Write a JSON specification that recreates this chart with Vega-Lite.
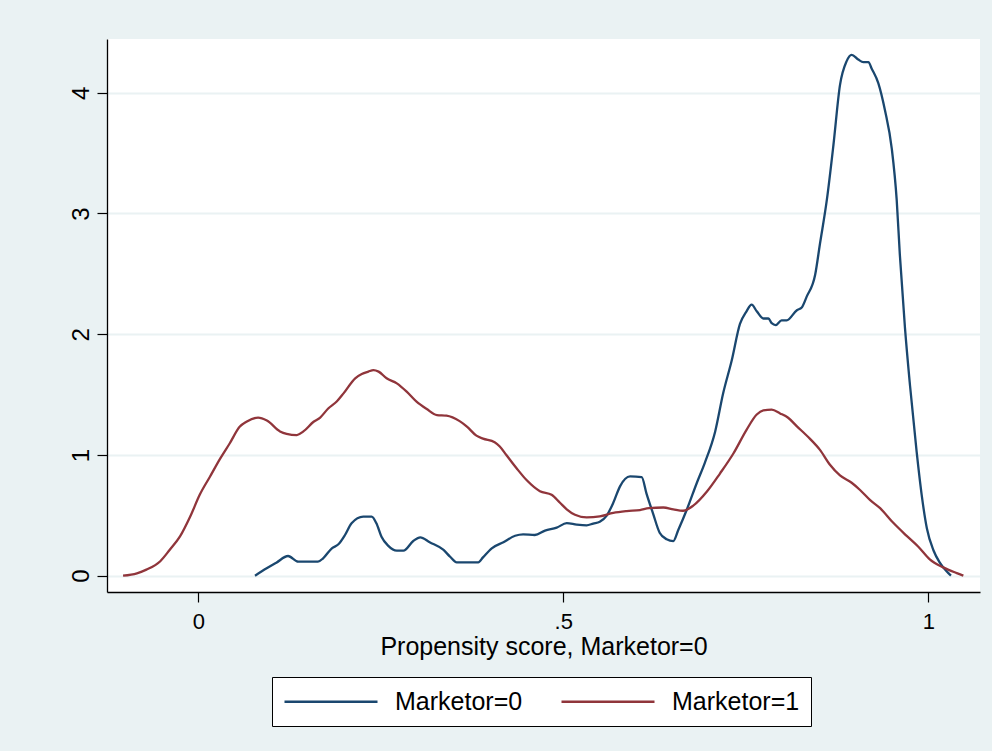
{
  "$schema": "https://vega.github.io/schema/vega-lite/v6.json",
  "width": 873,
  "height": 553,
  "autosize": {"type": "none"},
  "padding": {"left": 107, "top": 39, "right": 12, "bottom": 159},
  "background": "#eaf2f3",
  "config": {
    "view": {"fill": "#ffffff", "stroke": null},
    "font": "Liberation Sans"
  },
  "datasets": {
    "kdensity": [
      {"group": "Marketor=0", "score": 0.0777, "density": 0},
      {"group": "Marketor=0", "score": 0.0937, "density": 0.061},
      {"group": "Marketor=0", "score": 0.107, "density": 0.108},
      {"group": "Marketor=0", "score": 0.123, "density": 0.163},
      {"group": "Marketor=0", "score": 0.137, "density": 0.116},
      {"group": "Marketor=0", "score": 0.164, "density": 0.116},
      {"group": "Marketor=0", "score": 0.171, "density": 0.144},
      {"group": "Marketor=0", "score": 0.183, "density": 0.227},
      {"group": "Marketor=0", "score": 0.192, "density": 0.26},
      {"group": "Marketor=0", "score": 0.201, "density": 0.337},
      {"group": "Marketor=0", "score": 0.21, "density": 0.434},
      {"group": "Marketor=0", "score": 0.226, "density": 0.489},
      {"group": "Marketor=0", "score": 0.2375, "density": 0.489},
      {"group": "Marketor=0", "score": 0.244, "density": 0.434},
      {"group": "Marketor=0", "score": 0.251, "density": 0.323},
      {"group": "Marketor=0", "score": 0.26, "density": 0.249},
      {"group": "Marketor=0", "score": 0.272, "density": 0.207},
      {"group": "Marketor=0", "score": 0.281, "density": 0.207},
      {"group": "Marketor=0", "score": 0.2945, "density": 0.287},
      {"group": "Marketor=0", "score": 0.304, "density": 0.318},
      {"group": "Marketor=0", "score": 0.317, "density": 0.277},
      {"group": "Marketor=0", "score": 0.336, "density": 0.213},
      {"group": "Marketor=0", "score": 0.345, "density": 0.157},
      {"group": "Marketor=0", "score": 0.354, "density": 0.111},
      {"group": "Marketor=0", "score": 0.3836, "density": 0.111},
      {"group": "Marketor=0", "score": 0.39, "density": 0.152},
      {"group": "Marketor=0", "score": 0.402, "density": 0.227},
      {"group": "Marketor=0", "score": 0.418, "density": 0.277},
      {"group": "Marketor=0", "score": 0.434, "density": 0.331},
      {"group": "Marketor=0", "score": 0.445, "density": 0.343},
      {"group": "Marketor=0", "score": 0.461, "density": 0.337},
      {"group": "Marketor=0", "score": 0.475, "density": 0.373},
      {"group": "Marketor=0", "score": 0.491, "density": 0.398},
      {"group": "Marketor=0", "score": 0.5047, "density": 0.435},
      {"group": "Marketor=0", "score": 0.5184, "density": 0.423},
      {"group": "Marketor=0", "score": 0.532, "density": 0.417},
      {"group": "Marketor=0", "score": 0.541, "density": 0.432},
      {"group": "Marketor=0", "score": 0.55, "density": 0.447},
      {"group": "Marketor=0", "score": 0.5595, "density": 0.498},
      {"group": "Marketor=0", "score": 0.5685, "density": 0.604},
      {"group": "Marketor=0", "score": 0.5777, "density": 0.74},
      {"group": "Marketor=0", "score": 0.5914, "density": 0.822},
      {"group": "Marketor=0", "score": 0.6074, "density": 0.816},
      {"group": "Marketor=0", "score": 0.614, "density": 0.68},
      {"group": "Marketor=0", "score": 0.623, "density": 0.514},
      {"group": "Marketor=0", "score": 0.632, "density": 0.356},
      {"group": "Marketor=0", "score": 0.6416, "density": 0.302},
      {"group": "Marketor=0", "score": 0.6507, "density": 0.287},
      {"group": "Marketor=0", "score": 0.6575, "density": 0.378},
      {"group": "Marketor=0", "score": 0.669, "density": 0.544},
      {"group": "Marketor=0", "score": 0.683, "density": 0.77},
      {"group": "Marketor=0", "score": 0.694, "density": 0.937},
      {"group": "Marketor=0", "score": 0.708, "density": 1.193},
      {"group": "Marketor=0", "score": 0.719, "density": 1.511},
      {"group": "Marketor=0", "score": 0.7307, "density": 1.782},
      {"group": "Marketor=0", "score": 0.742, "density": 2.085},
      {"group": "Marketor=0", "score": 0.751, "density": 2.19},
      {"group": "Marketor=0", "score": 0.758, "density": 2.245},
      {"group": "Marketor=0", "score": 0.765, "density": 2.19},
      {"group": "Marketor=0", "score": 0.774, "density": 2.13},
      {"group": "Marketor=0", "score": 0.781, "density": 2.13},
      {"group": "Marketor=0", "score": 0.7855, "density": 2.091},
      {"group": "Marketor=0", "score": 0.791, "density": 2.076},
      {"group": "Marketor=0", "score": 0.799, "density": 2.115},
      {"group": "Marketor=0", "score": 0.806, "density": 2.115},
      {"group": "Marketor=0", "score": 0.82, "density": 2.199},
      {"group": "Marketor=0", "score": 0.8266, "density": 2.221},
      {"group": "Marketor=0", "score": 0.8334, "density": 2.311},
      {"group": "Marketor=0", "score": 0.845, "density": 2.492},
      {"group": "Marketor=0", "score": 0.8516, "density": 2.749},
      {"group": "Marketor=0", "score": 0.861, "density": 3.112},
      {"group": "Marketor=0", "score": 0.87, "density": 3.565},
      {"group": "Marketor=0", "score": 0.879, "density": 4.063},
      {"group": "Marketor=0", "score": 0.888, "density": 4.26},
      {"group": "Marketor=0", "score": 0.895, "density": 4.314},
      {"group": "Marketor=0", "score": 0.904, "density": 4.275},
      {"group": "Marketor=0", "score": 0.911, "density": 4.254},
      {"group": "Marketor=0", "score": 0.918, "density": 4.254},
      {"group": "Marketor=0", "score": 0.9225, "density": 4.199},
      {"group": "Marketor=0", "score": 0.9315, "density": 4.079},
      {"group": "Marketor=0", "score": 0.9407, "density": 3.852},
      {"group": "Marketor=0", "score": 0.95, "density": 3.535},
      {"group": "Marketor=0", "score": 0.9567, "density": 3.112},
      {"group": "Marketor=0", "score": 0.961, "density": 2.659},
      {"group": "Marketor=0", "score": 0.968, "density": 2.054},
      {"group": "Marketor=0", "score": 0.975, "density": 1.571},
      {"group": "Marketor=0", "score": 0.984, "density": 1.027},
      {"group": "Marketor=0", "score": 0.991, "density": 0.665},
      {"group": "Marketor=0", "score": 0.998, "density": 0.393},
      {"group": "Marketor=0", "score": 1.007, "density": 0.211},
      {"group": "Marketor=0", "score": 1.016, "density": 0.106},
      {"group": "Marketor=0", "score": 1.025, "density": 0.036},
      {"group": "Marketor=0", "score": 1.031, "density": 0},

      {"group": "Marketor=1", "score": -0.103, "density": 0},
      {"group": "Marketor=1", "score": -0.084, "density": 0.02},
      {"group": "Marketor=1", "score": -0.071, "density": 0.05},
      {"group": "Marketor=1", "score": -0.052, "density": 0.12},
      {"group": "Marketor=1", "score": -0.039, "density": 0.215},
      {"group": "Marketor=1", "score": -0.025, "density": 0.325},
      {"group": "Marketor=1", "score": -0.011, "density": 0.49},
      {"group": "Marketor=1", "score": 0.002, "density": 0.67},
      {"group": "Marketor=1", "score": 0.016, "density": 0.82},
      {"group": "Marketor=1", "score": 0.03, "density": 0.97},
      {"group": "Marketor=1", "score": 0.043, "density": 1.095},
      {"group": "Marketor=1", "score": 0.057, "density": 1.235},
      {"group": "Marketor=1", "score": 0.066, "density": 1.275},
      {"group": "Marketor=1", "score": 0.082, "density": 1.31},
      {"group": "Marketor=1", "score": 0.094, "density": 1.285},
      {"group": "Marketor=1", "score": 0.112, "density": 1.195},
      {"group": "Marketor=1", "score": 0.121, "density": 1.175},
      {"group": "Marketor=1", "score": 0.135, "density": 1.165},
      {"group": "Marketor=1", "score": 0.144, "density": 1.195},
      {"group": "Marketor=1", "score": 0.158, "density": 1.275},
      {"group": "Marketor=1", "score": 0.167, "density": 1.31},
      {"group": "Marketor=1", "score": 0.178, "density": 1.385},
      {"group": "Marketor=1", "score": 0.19, "density": 1.445},
      {"group": "Marketor=1", "score": 0.199, "density": 1.51},
      {"group": "Marketor=1", "score": 0.215, "density": 1.635},
      {"group": "Marketor=1", "score": 0.224, "density": 1.67},
      {"group": "Marketor=1", "score": 0.233, "density": 1.69},
      {"group": "Marketor=1", "score": 0.24, "density": 1.703},
      {"group": "Marketor=1", "score": 0.247, "density": 1.69},
      {"group": "Marketor=1", "score": 0.258, "density": 1.635},
      {"group": "Marketor=1", "score": 0.272, "density": 1.593},
      {"group": "Marketor=1", "score": 0.2855, "density": 1.524},
      {"group": "Marketor=1", "score": 0.299, "density": 1.441},
      {"group": "Marketor=1", "score": 0.313, "density": 1.38},
      {"group": "Marketor=1", "score": 0.327, "density": 1.33},
      {"group": "Marketor=1", "score": 0.34, "density": 1.325},
      {"group": "Marketor=1", "score": 0.358, "density": 1.28},
      {"group": "Marketor=1", "score": 0.368, "density": 1.235},
      {"group": "Marketor=1", "score": 0.381, "density": 1.16},
      {"group": "Marketor=1", "score": 0.39, "density": 1.135},
      {"group": "Marketor=1", "score": 0.406, "density": 1.105},
      {"group": "Marketor=1", "score": 0.413, "density": 1.07},
      {"group": "Marketor=1", "score": 0.422, "density": 1.0},
      {"group": "Marketor=1", "score": 0.436, "density": 0.89},
      {"group": "Marketor=1", "score": 0.45, "density": 0.79},
      {"group": "Marketor=1", "score": 0.468, "density": 0.7},
      {"group": "Marketor=1", "score": 0.484, "density": 0.67},
      {"group": "Marketor=1", "score": 0.4955, "density": 0.604},
      {"group": "Marketor=1", "score": 0.5047, "density": 0.55},
      {"group": "Marketor=1", "score": 0.516, "density": 0.505},
      {"group": "Marketor=1", "score": 0.532, "density": 0.483},
      {"group": "Marketor=1", "score": 0.55, "density": 0.492},
      {"group": "Marketor=1", "score": 0.5685, "density": 0.52},
      {"group": "Marketor=1", "score": 0.587, "density": 0.535},
      {"group": "Marketor=1", "score": 0.605, "density": 0.544},
      {"group": "Marketor=1", "score": 0.6174, "density": 0.559},
      {"group": "Marketor=1", "score": 0.637, "density": 0.565},
      {"group": "Marketor=1", "score": 0.6507, "density": 0.55},
      {"group": "Marketor=1", "score": 0.664, "density": 0.538},
      {"group": "Marketor=1", "score": 0.678, "density": 0.58},
      {"group": "Marketor=1", "score": 0.6965, "density": 0.695},
      {"group": "Marketor=1", "score": 0.7146, "density": 0.846},
      {"group": "Marketor=1", "score": 0.733, "density": 1.012},
      {"group": "Marketor=1", "score": 0.751, "density": 1.208},
      {"group": "Marketor=1", "score": 0.765, "density": 1.335},
      {"group": "Marketor=1", "score": 0.774, "density": 1.369},
      {"group": "Marketor=1", "score": 0.7855, "density": 1.375},
      {"group": "Marketor=1", "score": 0.797, "density": 1.344},
      {"group": "Marketor=1", "score": 0.808, "density": 1.308},
      {"group": "Marketor=1", "score": 0.8197, "density": 1.239},
      {"group": "Marketor=1", "score": 0.838, "density": 1.133},
      {"group": "Marketor=1", "score": 0.8516, "density": 1.042},
      {"group": "Marketor=1", "score": 0.865, "density": 0.921},
      {"group": "Marketor=1", "score": 0.879, "density": 0.831},
      {"group": "Marketor=1", "score": 0.895, "density": 0.77},
      {"group": "Marketor=1", "score": 0.9065, "density": 0.71},
      {"group": "Marketor=1", "score": 0.92, "density": 0.628},
      {"group": "Marketor=1", "score": 0.934, "density": 0.559},
      {"group": "Marketor=1", "score": 0.952, "density": 0.438},
      {"group": "Marketor=1", "score": 0.97, "density": 0.332},
      {"group": "Marketor=1", "score": 0.986, "density": 0.242},
      {"group": "Marketor=1", "score": 1.002, "density": 0.136},
      {"group": "Marketor=1", "score": 1.0205, "density": 0.069},
      {"group": "Marketor=1", "score": 1.039, "density": 0.021},
      {"group": "Marketor=1", "score": 1.048, "density": 0}
    ]
  },
  "data": {"name": "kdensity"},
  "mark": {"type": "line", "strokeWidth": 2.3, "interpolate": "monotone"},
  "encoding": {
    "x": {
      "field": "score",
      "type": "quantitative",
      "scale": {"domain": [-0.125, 1.0708], "nice": false, "zero": false},
      "axis": {
        "values": [0, 0.5, 1],
        "labelExpr": "datum.value == 0.5 ? '.5' : format(datum.value, 'd')",
        "title": "Propensity score, Marketor=0",
        "titleFont": "Liberation Sans",
        "titleFontSize": 25,
        "titleFontWeight": "normal",
        "titleColor": "#000000",
        "titlePadding": 2,
        "labelFont": "Liberation Sans",
        "labelFontSize": 22,
        "labelColor": "#000000",
        "labelPadding": 9,
        "tickSize": 10,
        "tickColor": "#000000",
        "tickWidth": 1.2,
        "domainColor": "#000000",
        "domainWidth": 1.3,
        "grid": false
      }
    },
    "y": {
      "field": "density",
      "type": "quantitative",
      "scale": {"domain": [-0.135, 4.445], "nice": false, "zero": false},
      "axis": {
        "values": [0, 1, 2, 3, 4],
        "format": "d",
        "title": null,
        "labelFont": "Liberation Sans",
        "labelFontSize": 24,
        "labelColor": "#000000",
        "labelAngle": 270,
        "labelAlign": "center",
        "labelBaseline": "bottom",
        "labelPadding": 4,
        "tickSize": 10,
        "tickColor": "#000000",
        "tickWidth": 1.2,
        "domainColor": "#000000",
        "domainWidth": 1.3,
        "grid": true,
        "gridColor": "#eaf2f3",
        "gridWidth": 2.2
      }
    },
    "color": {
      "field": "group",
      "type": "nominal",
      "scale": {"domain": ["Marketor=0", "Marketor=1"], "range": ["#1a476f", "#90353b"]},
      "legend": {
        "title": null,
        "orient": "none",
        "legendX": 165,
        "legendY": 638,
        "direction": "horizontal",
        "fillColor": "#ffffff",
        "strokeColor": "#000000",
        "padding": 11,
        "symbolType": "M-1,0H6.75",
        "symbolSize": 576,
        "symbolStrokeWidth": 2.5,
        "labelFont": "Liberation Sans",
        "labelFontSize": 25,
        "labelColor": "#000000",
        "labelOffset": 85,
        "columnPadding": 33
      }
    }
  }
}
